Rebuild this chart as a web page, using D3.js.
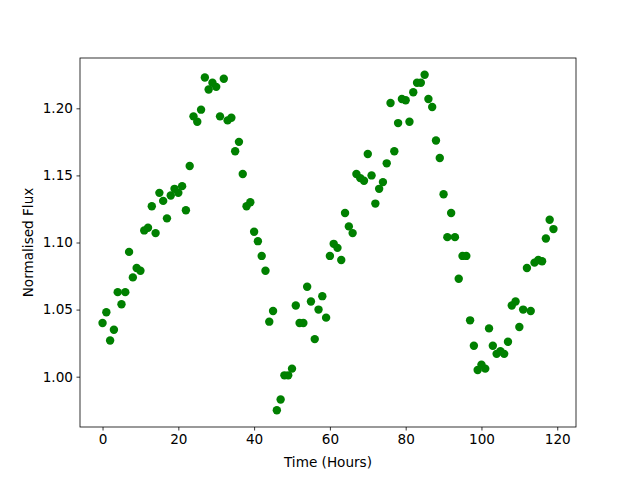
<!DOCTYPE html>
<html>
<head>
<meta charset="utf-8">
<script src="https://cdn.jsdelivr.net/npm/d3@7"></script>
<style>
  html, body { margin: 0; padding: 0; background: #fff; }
  svg { display: block; }
  text { font-family: "DejaVu Sans", sans-serif; fill: #000; }
</style>
</head>
<body>
<svg id="chart" width="640" height="480"></svg>
<script>
// Time in hours (one sample per hour)
const hours = d3.range(0, 120);
// Normalised flux values
const flux = [
  1.040, 1.048, 1.027, 1.035, 1.063, 1.054, 1.063, 1.093, 1.074, 1.081,
  1.079, 1.109, 1.111, 1.127, 1.107, 1.137, 1.131, 1.118, 1.135, 1.140,
  1.137, 1.142, 1.124, 1.157, 1.194, 1.190, 1.199, 1.223, 1.214, 1.219,
  1.216, 1.194, 1.222, 1.191, 1.193, 1.168, 1.175, 1.151, 1.127, 1.130,
  1.108, 1.101, 1.090, 1.079, 1.041, 1.049, 0.975, 0.983, 1.001, 1.001,
  1.006, 1.053, 1.040, 1.040, 1.067, 1.056, 1.028, 1.050, 1.060, 1.044,
  1.090, 1.099, 1.096, 1.087, 1.122, 1.112, 1.107, 1.151, 1.148, 1.146,
  1.166, 1.150, 1.129, 1.140, 1.145, 1.159, 1.204, 1.168, 1.189, 1.207,
  1.206, 1.190, 1.212, 1.219, 1.219, 1.225, 1.207, 1.201, 1.176, 1.163,
  1.136, 1.104, 1.122, 1.104, 1.073, 1.090, 1.090, 1.042, 1.023, 1.005,
  1.009, 1.006, 1.036, 1.023, 1.017, 1.019, 1.017, 1.026, 1.053, 1.056,
  1.037, 1.050, 1.081, 1.049, 1.085, 1.087, 1.086, 1.103, 1.117, 1.110
];
const xTicks = [0, 20, 40, 60, 80, 100, 120];
const yTicks = [1.00, 1.05, 1.10, 1.15, 1.20];
const xLabel = "Time (Hours)";
const yLabel = "Normalised Flux";

const W = 640, H = 480;
const m = { left: 80, right: 64, top: 58, bottom: 53 };
const iw = W - m.left - m.right, ih = H - m.top - m.bottom;

function padded(ext) { const r = ext[1] - ext[0]; return [ext[0] - 0.05 * r, ext[1] + 0.05 * r]; }

const x = d3.scaleLinear().domain(padded(d3.extent(hours))).range([0, iw]);
const y = d3.scaleLinear().domain(padded(d3.extent(flux))).range([ih, 0]);

const svg = d3.select("#chart");
const g = svg.append("g").attr("transform", `translate(${m.left},${m.top})`);

const data = hours.map((h, i) => ({ h, f: flux[i] }));

g.append("g").selectAll("circle").data(data).join("circle")
  .attr("cx", d => x(d.h)).attr("cy", d => y(d.f))
  .attr("r", 4.2).attr("fill", "#008000");

const fs = "13.6px";
const xa = g.append("g").attr("transform", `translate(0,${ih})`)
  .call(d3.axisBottom(x).tickValues(xTicks).tickFormat(d3.format("d")).tickSize(3.5).tickPadding(3.5));
const ya = g.append("g")
  .call(d3.axisLeft(y).tickValues(yTicks).tickFormat(d3.format(".2f")).tickSize(3.5).tickPadding(3.5));
[xa, ya].forEach(a => {
  a.select(".domain").remove();
  a.selectAll("line").attr("stroke", "#000").attr("stroke-width", 0.8);
  a.selectAll("text").attr("font-size", fs).attr("font-family", "DejaVu Sans");
});

g.append("rect").attr("x", 0).attr("y", 0).attr("width", iw).attr("height", ih)
  .attr("fill", "none").attr("stroke", "#000").attr("stroke-width", 0.8);

svg.append("text").attr("x", m.left + iw / 2).attr("y", 467)
  .attr("text-anchor", "middle").attr("font-size", fs).text(xLabel);
svg.append("text").attr("transform", `translate(32.5,${m.top + ih / 2}) rotate(-90)`)
  .attr("text-anchor", "middle").attr("font-size", fs).text(yLabel);
</script>
</body>
</html>
